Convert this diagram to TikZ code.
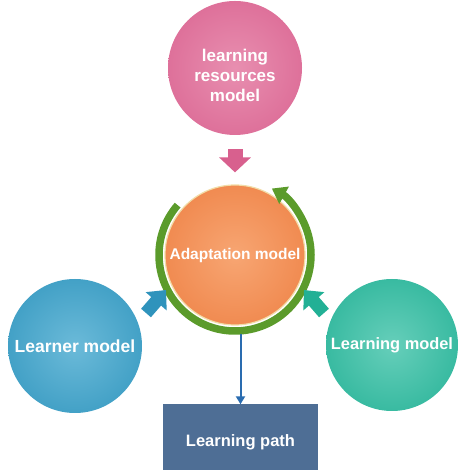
\documentclass[tikz,border=0pt]{standalone}
\usepackage{fontspec}
\setmainfont{Liberation Sans}
\usetikzlibrary{arrows.meta}
\definecolor{pinkout}{HTML}{D8608E}
\definecolor{orangeout}{HTML}{EE7D3F}
\definecolor{blueout}{HTML}{2F93BC}
\definecolor{tealout}{HTML}{22B095}
\definecolor{ringgreen}{HTML}{5B9B2B}
\definecolor{pathfill}{HTML}{4E6E95}
\definecolor{linkblue}{HTML}{2A6CB0}
\definecolor{rimyellow}{HTML}{F2DDA8}
\pgfdeclareradialshading{pinkshade}{\pgfpoint{0bp}{0bp}}{rgb(0bp)=(0.91,0.56,0.69); rgb(38bp)=(0.85,0.38,0.56); rgb(50bp)=(0.85,0.38,0.56)}
\pgfdeclareradialshading{orangeshade}{\pgfpoint{0bp}{0bp}}{rgb(0bp)=(0.97,0.65,0.45); rgb(38bp)=(0.93,0.49,0.25); rgb(50bp)=(0.93,0.49,0.25)}
\pgfdeclareradialshading{blueshade}{\pgfpoint{0bp}{0bp}}{rgb(0bp)=(0.42,0.73,0.85); rgb(38bp)=(0.18,0.58,0.74); rgb(50bp)=(0.18,0.58,0.74)}
\pgfdeclareradialshading{tealshade}{\pgfpoint{0bp}{0bp}}{rgb(0bp)=(0.40,0.81,0.73); rgb(38bp)=(0.13,0.69,0.58); rgb(50bp)=(0.13,0.69,0.58)}
\begin{document}
\begin{tikzpicture}[x=1pt,y=1pt,
  every node/.style={text=white, align=center},
  bubble/.style={circle, inner sep=0pt}]
\useasboundingbox (0,0) rectangle (458,470);
% nodes
\node[bubble, minimum size=134pt, shading=pinkshade, font=\bfseries\fontsize{17}{20}\selectfont] (res) at (235,402)
  {\begin{tabular}{@{}c@{}}\rule{0pt}{34pt}learning\\resources\\model\end{tabular}};
\node[bubble, minimum size=140pt, shading=orangeshade, draw=rimyellow, line width=1.2pt, font=\bfseries\fontsize{15.5}{18}\selectfont] (ad) at (235,215)
  {Adaptation model};
\node[bubble, minimum size=134pt, shading=blueshade, font=\bfseries\fontsize{17.5}{20}\selectfont] (lm) at (75,124)
  {Learner model};
\node[bubble, minimum size=132pt, shading=tealshade, font=\bfseries\fontsize{16.4}{20}\selectfont] (gm) at (392,125)
  {Learning model};
\node[rectangle, fill=pathfill, minimum width=155pt, minimum height=66pt, inner sep=0pt,
  text height=21pt, text depth=3.5pt, font=\bfseries\fontsize{16.5}{20}\selectfont] (lp) at (240.5,32.5)
  {Learning path};
% ring arrow around adaptation model
\coordinate (ringstart) at ([shift={(139:76)}]ad.center);
\draw[ringgreen, line width=7.5pt, -{Triangle[width=19pt,length=14pt]}]
  (ringstart) arc[start angle=139, end angle=421, radius=76];
% block arrows
\coordinate (pinktail) at ([yshift=-14pt]res.south);
\coordinate (pinktip) at ([yshift=12pt]ad.north);
\draw[pinkout, line width=15pt, -{Triangle[width=31pt,length=15pt]}] (pinktail) -- (pinktip);
\coordinate (bluetail) at (146,157);
\coordinate (bluetip) at (166,180);
\draw[blueout, line width=13pt, -{Triangle[width=27pt,length=15pt]}] (bluetail) -- (bluetip);
\coordinate (tealtail) at (324,157);
\coordinate (tealtip) at (304,180);
\draw[tealout, line width=13pt, -{Triangle[width=27pt,length=15pt]}] (tealtail) -- (tealtip);
% link to learning path
\draw[linkblue, line width=2pt, -{Triangle[width=9pt,length=8pt]}]
  ([yshift=-8pt]lp.north |- ad.south) -- (lp.north);
\end{tikzpicture}
\end{document}
